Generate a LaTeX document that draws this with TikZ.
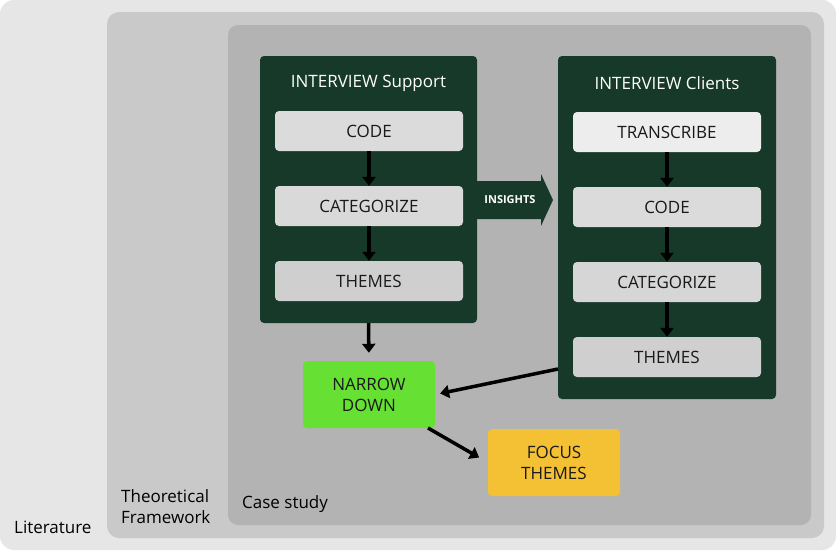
\documentclass[tikz,border=0pt]{standalone}
\usepackage{fontspec}
\setmainfont{Open Sans}
\usepackage{xcolor}
\usetikzlibrary{arrows.meta}
\definecolor{litgray}{HTML}{E6E6E6}
\definecolor{theogray}{HTML}{C9C9C9}
\definecolor{casegray}{HTML}{B3B3B3}
\definecolor{panelgreen}{HTML}{17392A}
\definecolor{narrowgreen}{HTML}{66E033}
\definecolor{focusyellow}{HTML}{F5C134}
\tikzstyle{panel} = [rectangle, rounded corners=4pt, fill=panelgreen, inner sep=0pt]
\tikzstyle{stepbox} = [rectangle, rounded corners=4pt, minimum width=188pt, minimum height=40pt, inner sep=0pt, text=black!90]
\tikzstyle{flow} = [line width=3.5pt, -{Triangle[width=13pt,length=9pt]}]

\begin{document}
\begin{tikzpicture}[x=1pt,y=-1pt]
			\tikzset{every node/.style={font=\fontsize{17}{21}\selectfont}}
\useasboundingbox (0,0) rectangle (836,550);
\fill[white] (0,0) rectangle (836,550);
% nested scopes
\fill[litgray, rounded corners=14pt] (0,0) rectangle (836,550);
\fill[theogray, rounded corners=12pt] (107,12) rectangle (824,538);
\fill[casegray, rounded corners=10pt] (228,25) rectangle (811,525);

\node[anchor=west, inner sep=0pt] (lit) at (14,527) {Literature};
\node[anchor=west, align=left, inner sep=0pt] (theo) at (121,507) {Theoretical\\Framework};
\node[anchor=west, inner sep=0pt] (case) at (242,504) {Case study};

% interview panels
\node[panel, minimum width=217pt, minimum height=267pt] (support) at (368.5,189.5) {};
\node[panel, minimum width=218pt, minimum height=343pt] (clients) at (667,227.5) {};
\node[text=white] (supporttitle) at (368.5,83) {INTERVIEW Support};
\node[text=white] (clientstitle) at (667,83) {INTERVIEW Clients};

\fill[panelgreen] (477,181) -- (541,181) -- (541,174) -- (553,200) -- (541,226) -- (541,219) -- (477,219) -- cycle;
\node[text=white, font=\fontsize{11}{13}\selectfont\bfseries] (insights) at (510,200) {INSIGHTS};

\node[stepbox, fill=black!14] (code1) at (369,131) {CODE};
\node[stepbox, fill=black!15] (cat1) at (369,206) {CATEGORIZE};
\node[stepbox, fill=black!19] (themes1) at (369,281) {THEMES};

\node[stepbox, fill=black!7] (trans) at (667,132) {TRANSCRIBE};
\node[stepbox, fill=black!14] (code2) at (667,207) {CODE};
\node[stepbox, fill=black!16] (cat2) at (667,282) {CATEGORIZE};
\node[stepbox, fill=black!19] (themes2) at (667,357) {THEMES};

\foreach \from/\to in {code1/cat1,cat1/themes1,trans/code2,code2/cat2,cat2/themes2}
{
	\draw[flow] (\from.south) -- (\to.north);
}

\node[stepbox, fill=narrowgreen, minimum width=132pt, minimum height=67pt, align=center] (narrow) at (369,394.5) {NARROW\\DOWN};
\node[stepbox, fill=focusyellow, minimum width=132pt, minimum height=67pt, align=center] (focus) at (554,462.5) {FOCUS\\THEMES};

\coordinate (clout) at (558,369);
\coordinate (ndout) at (428,428);
\draw[flow, shorten >=8pt] (support.south) -- (narrow.north);
\draw[flow, shorten >=5pt] (clout) -- (narrow.east);
\draw[flow, shorten >=10pt] (ndout) -- (focus.west);

		\end{tikzpicture}
\end{document}
